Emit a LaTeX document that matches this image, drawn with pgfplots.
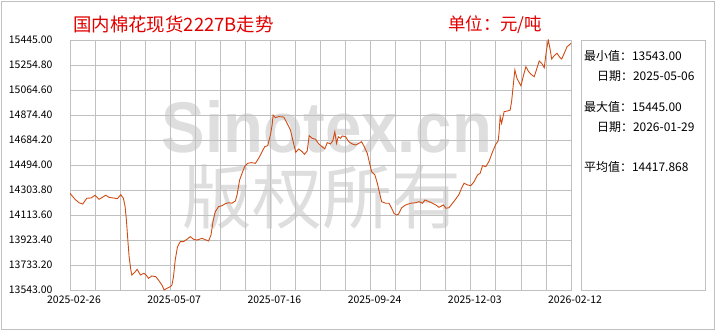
\documentclass[border=0pt]{standalone}
\usepackage{fontspec}
\setmainfont{Noto Sans CJK SC}
\newfontfamily\wmfont{Liberation Sans}
\usepackage{pgfplots}
\pgfplotsset{compat=1.18}
\definecolor{linec}{RGB}{208,76,20}
\definecolor{gridc}{RGB}{192,192,192}
\definecolor{titlec}{RGB}{225,0,0}
\definecolor{wm}{RGB}{222,222,222}
\begin{document}
\begin{tikzpicture}[x=1bp,y=1bp]
\useasboundingbox (-70,-40) rectangle (650,290);
\draw[gridc, line width=0.8bp] (-69,-39) rectangle (644,289);
\node[text=wm, font=\wmfont\bfseries\fontsize{72}{72}\selectfont, xscale=0.91, anchor=base, inner sep=0, text depth=0pt] at (257,138) {Sinotex.cn};
\node[text=wm, font=\fontsize{70}{70}\selectfont, anchor=base, inner sep=0, text height=0.8em, text depth=0.05em] at (252,67) {版权所有};
\node[anchor=west, text=titlec, font=\fontsize{18.5}{20}\selectfont, inner sep=0] at (3,266) {国内棉花现货2227B走势};
\node[anchor=west, text=titlec, font=\fontsize{17.5}{19}\selectfont, inner sep=0] at (378,265) {单位：元/吨};
\draw[gridc, line width=0.8bp] (511,0) rectangle (635,250);
\begin{scope}[every node/.style={anchor=west, inner sep=0, font=\fontsize{12}{13}\selectfont}]
\node at (514,234) {最小值：13543.00};
\node at (527,214) {日期：2025-05-06};
\node at (514,183.3) {最大值：15445.00};
\node at (527,163.3) {日期：2026-01-29};
\node at (514,123.3) {平均值：14417.868};
\end{scope}
\begin{axis}[
  at={(0,0)}, anchor=south west, scale only axis,
  width=501bp, height=250bp,
  xmin=0, xmax=350, ymin=13543, ymax=15445,
  scaled y ticks=false, scaled x ticks=false,
  xtick={0,70,140,210,280,350},
  xticklabels={2025-02-26,2025-05-07,2025-07-16,2025-09-24,2025-12-03,2026-02-12},
  minor x tick num=3,
  ytick={13543,13733.2,13923.4,14113.6,14303.8,14494,14684.2,14874.4,15064.6,15254.8,15445},
  yticklabels={13543.00,13733.20,13923.40,14113.60,14303.80,14494.00,14684.20,14874.40,15064.60,15254.80,15445.00},
  grid=both,
  grid style={gridc, line width=0.8bp},
  minor grid style={gridc, line width=0.8bp},
  major grid style={gridc, line width=0.8bp},
  axis line style={gridc, line width=0.8bp},
  major tick length=0pt, minor tick length=0pt,
  tick label style={font=\fontsize{10.5}{12}\selectfont},
  yticklabel style={xshift=-14bp},
  xticklabel style={xshift=4bp, yshift=-2bp},
]
\addplot[linec, line width=0.9bp, mark=none] table {
x y
0 14279
3.5 14233
6.3 14207
8.9 14197
11.7 14241
14.7 14243
17.5 14264
20.3 14233
22.6 14248
25.0 14264
27.3 14248
30.3 14243
33.1 14238
35.5 14268
37.3 14241
38.5 14177
39.4 14076
40.4 13923
41.3 13796
42.5 13695
43.2 13657
45.0 13675
46.9 13700
49.2 13657
51.6 13670
53.2 13657
54.8 13632
57.2 13650
60.0 13644
61.8 13619
64.2 13581
65.8 13543
67.7 13556
70.0 13568
71.2 13581
72.3 13644
73.5 13771
75.1 13872
77.0 13911
79.3 13911
81.7 13929
84.0 13949
86.3 13929
88.7 13923
92.2 13936
96.8 13916
98.5 13961
99.9 14063
101.5 14139
103.8 14177
106.2 14184
108.5 14200
110.8 14207
113.2 14203
115.5 14220
116.7 14266
118.5 14380
120.2 14431
122.0 14481
124.1 14507
126.7 14512
129.5 14507
131.8 14545
134.2 14595
136.0 14633
138.1 14641
140.0 14722
141.2 14798
141.9 14874
143.5 14854
145.8 14862
149.3 14859
151.7 14811
154.0 14760
155.9 14671
157.7 14591
159.8 14616
162.2 14595
163.8 14575
165.7 14601
167.1 14717
169.2 14697
171.5 14690
173.8 14654
176.2 14633
178.0 14616
179.7 14664
182.0 14654
183.6 14679
185.0 14747
186.2 14659
187.4 14709
189.0 14697
190.2 14715
192.5 14709
194.8 14671
197.2 14654
199.5 14646
201.8 14659
203.7 14671
205.3 14639
207.7 14583
209.3 14507
210.7 14443
213.0 14418
214.7 14355
216.3 14279
217.7 14215
220.5 14203
222.8 14203
224.7 14165
226.3 14127
228.0 14114
229.4 14119
231.7 14169
234.5 14190
238.0 14203
241.5 14207
243.8 14215
246.2 14203
248.0 14228
250.8 14215
253.2 14203
255.5 14190
257.8 14172
260.9 14190
262.5 14165
264.8 14169
267.2 14203
269.5 14235
271.8 14271
273.5 14317
275.3 14355
277.7 14342
280.0 14337
282.3 14367
284.7 14418
286.5 14431
288.2 14489
290.5 14481
292.8 14524
295.2 14595
297.5 14652
299.1 14677
299.8 14747
300.5 14862
301.5 14811
303.3 14900
305.7 14905
307.5 14912
308.5 14976
309.9 15128
310.8 15217
312.2 15154
315.0 15097
316.9 15179
318.5 15242
320.1 15209
322.0 15184
324.3 15166
326.2 15230
327.8 15285
329.5 15268
331.3 15234
332.7 15356
334.1 15445
335.5 15369
336.5 15300
338.3 15326
340.2 15344
341.8 15318
343.5 15300
345.3 15344
347.2 15394
348.8 15407
350.0 15420
};
\end{axis}
\end{tikzpicture}
\end{document}
